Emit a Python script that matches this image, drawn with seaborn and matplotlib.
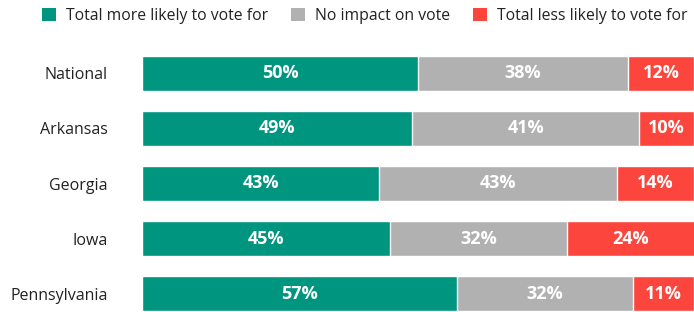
import matplotlib
matplotlib.use("Agg")
import matplotlib.pyplot as plt
import seaborn as sns
import pandas as pd
import numpy as np
from matplotlib.patches import Patch

categories = ["National", "Arkansas", "Georgia", "Iowa", "Pennsylvania"]
more_likely = [50, 49, 43, 45, 57]
no_impact = [38, 41, 43, 32, 32]
less_likely = [12, 10, 14, 24, 11]
series_names = ["Total more likely to vote for", "No impact on vote", "Total less likely to vote for"]
colors = ["#00957F", "#B1B1B1", "#FC453C"]

sns.set_theme(style="white")
plt.rcParams['font.family'] = ['Open Sans', 'DejaVu Sans']

df = pd.DataFrame({"cat": categories, "a": more_likely, "b": no_impact, "c": less_likely})
df["ab"] = df["a"] + df["b"]
df["abc"] = df["ab"] + df["c"]

fig = plt.figure(figsize=(6.94, 3.12), dpi=100)
ax = fig.add_axes([142/694, 1/312, 1 - 142/694, 1 - 57/312])

w = 0.636
sns.barplot(data=df, y="cat", x="abc", color=colors[2], orient="h", width=w, ax=ax, saturation=1)
sns.barplot(data=df, y="cat", x="ab", color=colors[1], orient="h", width=w, ax=ax, saturation=1)
sns.barplot(data=df, y="cat", x="a", color=colors[0], orient="h", width=w, ax=ax, saturation=1)

for i, r in df.iterrows():
    for left, val in [(0, r["a"]), (r["a"], r["b"]), (r["ab"], r["c"])]:
        right = min(left + val, 100)
        cx = (left + right) / 2
        ax.text(cx, i, f"{val}%", ha="center", va="center", color="white",
                fontsize=13, fontweight="bold")

ax.set_xlim(0, 100)
ax.set_ylim(len(categories) - 1 + w / 2, -w / 2)
ax.set_xlabel("")
ax.set_ylabel("")
ax.set_xticks([])
ax.tick_params(axis="y", length=0, pad=24.5, labelsize=11.5, labelcolor="#222222")
for s in ax.spines.values():
    s.set_visible(False)

handles = [Patch(facecolor=c, edgecolor="none") for c in colors]
fig.legend(handles, series_names, ncol=3, loc="center right",
           bbox_to_anchor=(688/694, 1 - 16/312),
           frameon=False, fontsize=11.3, handlelength=0.89, handleheight=0.89,
           handletextpad=0.64, columnspacing=1.47, labelcolor="#222222",
           borderpad=0, borderaxespad=0)

fig.savefig("out.png", dpi=100)
